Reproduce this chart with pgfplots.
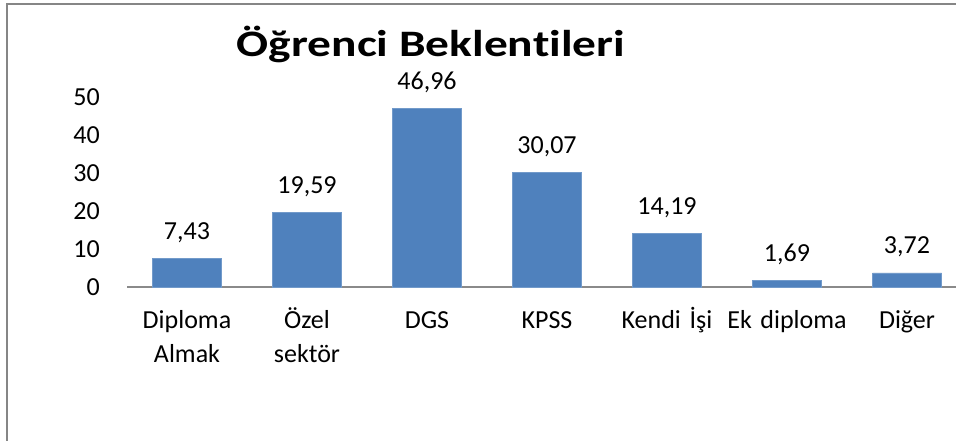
\documentclass[border=0pt]{standalone}
\usepackage{pgfplots}
\pgfplotsset{compat=1.18}
\usepackage{fontspec}
\setmainfont{Carlito}[Ligatures=NoCommon]
\definecolor{barblue}{HTML}{4F81BD}
\definecolor{framegray}{HTML}{868686}
\definecolor{axgray}{HTML}{8A8A8A}
\begin{document}
\begin{tikzpicture}[x=0.75pt,y=0.75pt]
\useasboundingbox (0,0) rectangle (956,441);
\clip (0,0) rectangle (956,441);
\fill[white] (0,0) rectangle (956,441);
\draw[framegray, line width=1.5pt] (7,-20) -- (7,437) -- (980,437);
\begin{axis}[
 at={(95.25pt,115.5pt)}, anchor=south west,
 scale only axis, width=630pt, height=142.5pt,
 xmin=-0.5, xmax=6.5, ymin=0, ymax=50,
 ybar, bar width=51.75pt,
 clip=false,
 axis x line*=bottom, axis y line*=left,
 x axis line style={-, axgray, line width=1.5pt},
 y axis line style={draw=none},
 /pgf/number format/assume math mode=true,
 xtick=data,
 xticklabels={{Diploma\\Almak},{Özel\\sektör},DGS,KPSS,Kendi İşi,Ek diploma,Diğer},
 ytick={0,10,20,30,40,50},
 major tick length=0pt,
 tick style={draw=none},
 xticklabel style={text width=110pt, align=center, font=\fontsize{19.5}{25.5}\selectfont, inner sep=0pt, anchor=base, yshift=-31.5pt},
 yticklabel style={font=\fontsize{19.5}{24}\selectfont, inner sep=0pt, anchor=east, xshift=-20.25pt},
 nodes near coords={\pgfmathprintnumber[fixed, fixed zerofill, precision=2, use comma]{\pgfplotspointmeta}},
 nodes near coords style={font=\fontsize{19.5}{24}\selectfont, anchor=base, inner sep=0pt, yshift=14.25pt, black},
]
\addplot[fill=barblue, draw=barblue!80!white] coordinates {
 (0,7.43) (1,19.59) (2,46.96) (3,30.07) (4,14.19) (5,1.69) (6,3.72)
};
\end{axis}
\node[font=\fontsize{28}{34}\selectfont\bfseries, anchor=base] at (431,384) {\scalebox{1.27}[1]{Öğrenci Beklentileri}};
\end{tikzpicture}
\end{document}
